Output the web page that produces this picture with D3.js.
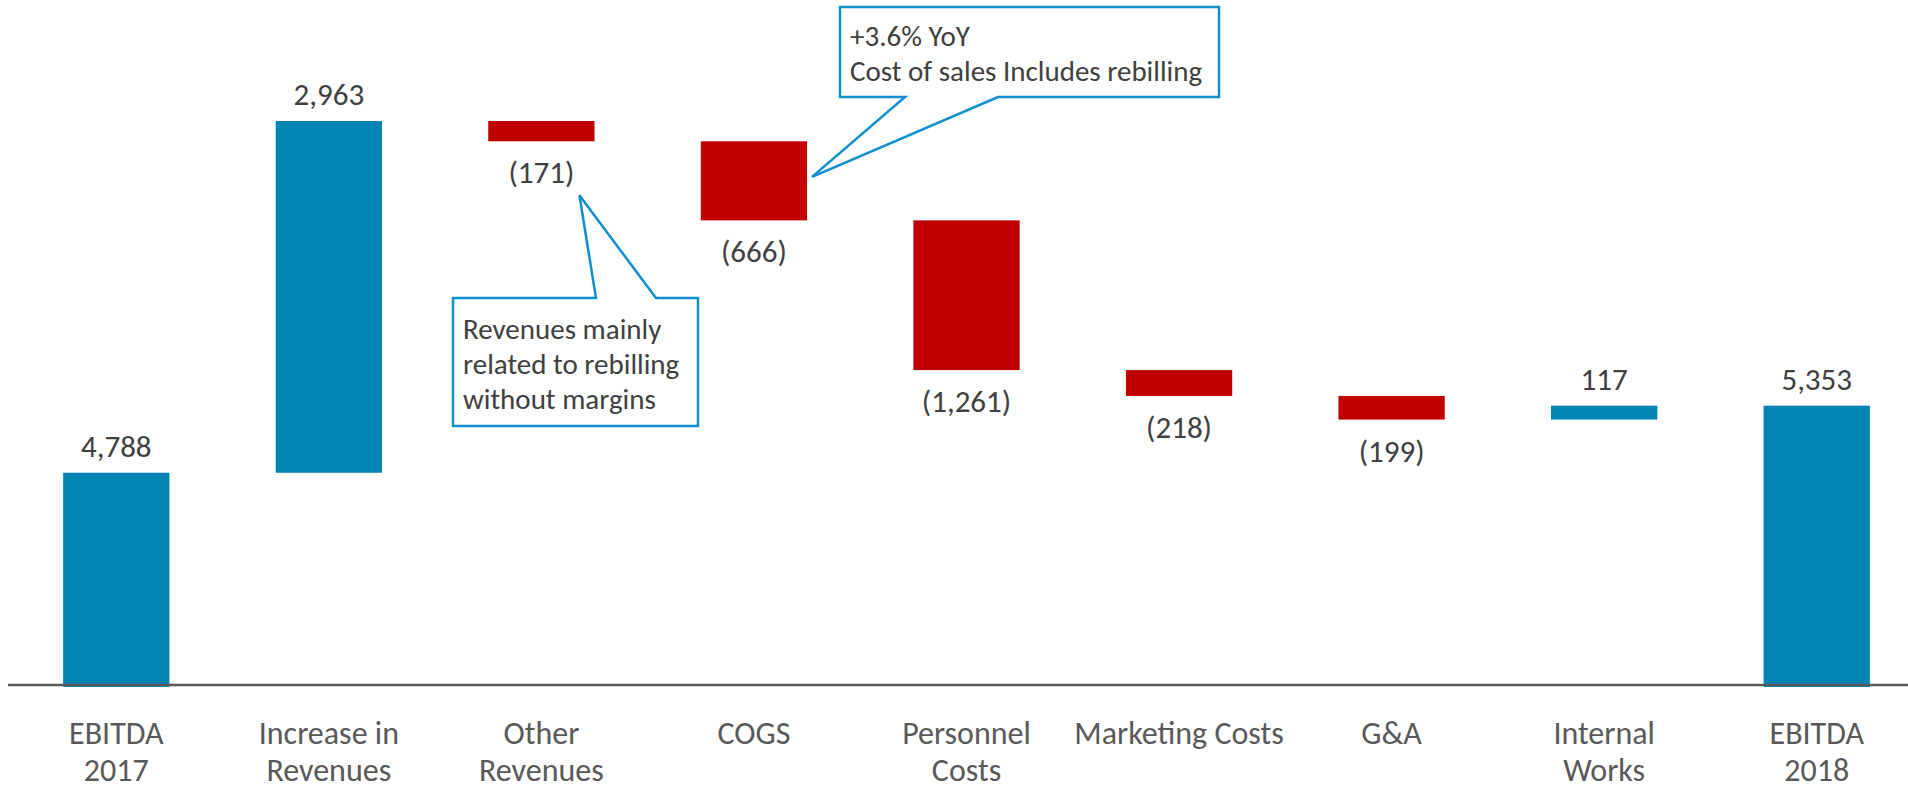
<!DOCTYPE html>
<html>
<head>
<meta charset="utf-8">
<script src="https://cdn.jsdelivr.net/npm/d3@7"></script>
<style>
  html, body { margin: 0; padding: 0; background: #fff; }
  svg { display: block; font-family: Carlito, Lato, "Open Sans", sans-serif; }
  .value-label { fill: #404040; font-size: 31px; }
  .cat-label { fill: #595959; font-size: 32px; }
  .note-text { fill: #404040; font-size: 29px; }
</style>
</head>
<body>
<div id="chart"></div>
<script>
// EBITDA bridge 2017 -> 2018
const categories = [
  "EBITDA\n2017",
  "Increase in\nRevenues",
  "Other\nRevenues",
  "COGS",
  "Personnel\nCosts",
  "Marketing Costs",
  "G&A",
  "Internal\nWorks",
  "EBITDA\n2018",
];
const values = [4788, 2963, -171, -666, -1261, -218, -199, 117, 5353];
const kinds = ["total", "delta", "delta", "delta", "delta", "delta", "delta", "delta", "total"];
const axisBase = 3000; // value axis is cut at 3,000

const noteRevenues = ["Revenues mainly", "related to rebilling", "without margins"];
const noteCogs = ["+3.6% YoY", "Cost of sales Includes rebilling"];

const width = 1908;
const height = 789;
const blue = "#0284b4";
const red = "#c00000";
const calloutBlue = "#0f8fcf";

// running totals for the floating bars
let running = 0;
const bars = values.map((v, i) => {
  let y0, y1;
  if (kinds[i] === "total") {
    y0 = 0;
    y1 = v;
    running = v;
  } else {
    y0 = running;
    y1 = running + v;
    running = y1;
  }
  return { name: categories[i], value: v, kind: kinds[i], lo: Math.min(y0, y1), hi: Math.max(y0, y1) };
});

const x = d3.scaleBand()
  .domain(categories)
  .range([10, 1923])
  .paddingInner(0.5)
  .paddingOuter(0.25);

const y = d3.scaleLinear()
  .domain([axisBase, 7751])
  .range([685, 121]);

const fmt = d3.format(",");
const labelText = (v) => (v < 0 ? `(${fmt(-v)})` : fmt(v));

const svg = d3.select("#chart")
  .append("svg")
  .attr("width", width)
  .attr("height", height)
  .attr("viewBox", [0, 0, width, height]);

svg.append("g")
  .selectAll("rect")
  .data(bars)
  .join("rect")
  .attr("x", (d) => x(d.name))
  .attr("width", x.bandwidth())
  .attr("y", (d) => y(d.hi))
  .attr("height", (d) => Math.max(y(Math.max(d.lo, axisBase)) - y(d.hi), 0) + (d.kind === "total" ? 2 : 0))
  .attr("fill", (d) => (d.value < 0 ? red : blue));

// baseline
svg.append("line")
  .attr("x1", 8)
  .attr("x2", width)
  .attr("y1", y(axisBase))
  .attr("y2", y(axisBase))
  .attr("stroke", "#595959")
  .attr("stroke-width", 2.5);

// value labels: above rising bars, below falling ones
svg.append("g")
  .selectAll("text")
  .data(bars)
  .join("text")
  .attr("class", "value-label")
  .attr("text-anchor", "middle")
  .attr("x", (d) => x(d.name) + x.bandwidth() / 2)
  .attr("y", (d) => (d.value < 0 ? y(d.lo) + 42 : y(d.hi) - 16))
  .text((d) => labelText(d.value));

// category labels, split on line breaks
svg.append("g")
  .selectAll("text")
  .data(categories)
  .join("text")
  .attr("class", "cat-label")
  .attr("text-anchor", "middle")
  .attr("x", (d) => x(d) + x.bandwidth() / 2)
  .attr("y", y(axisBase) + 59)
  .call((t) =>
    t.selectAll("tspan")
      .data((d) => d.split("\n"))
      .join("tspan")
      .attr("x", function () { return this.parentNode.getAttribute("x"); })
      .attr("dy", (d, i) => (i ? 37 : 0))
      .text((d) => d)
  );

// callout: rectangle with a wedge pointing at a spot
function callout({ box, base, tip, lines, textX, firstBaseline, lineGap }) {
  const [bx, by, bw, bh] = box;
  const onTop = tip[1] < by;
  const edgeY = onTop ? by : by + bh;
  let pts;
  if (onTop) {
    pts = [[bx, by], [base[0], by], tip, [base[1], by], [bx + bw, by], [bx + bw, by + bh], [bx, by + bh]];
  } else {
    pts = [[bx, by], [bx + bw, by], [bx + bw, edgeY], [base[1], edgeY], tip, [base[0], edgeY], [bx, edgeY]];
  }
  const g = svg.append("g");
  g.append("path")
    .attr("d", d3.line()(pts) + "Z")
    .attr("fill", "#fff")
    .attr("stroke", calloutBlue)
    .attr("stroke-width", 2.5)
    .attr("stroke-linejoin", "miter");
  g.append("g")
    .selectAll("text")
    .data(lines)
    .join("text")
    .attr("class", "note-text")
    .attr("x", textX)
    .attr("y", (d, i) => firstBaseline + i * lineGap)
    .text((d) => d);
}

const other = bars[2];
const otherCx = x(other.name) + x.bandwidth() / 2;
callout({
  box: [453, 298, 245, 128],
  base: [596, 656],
  tip: [otherCx + 38, y(other.lo) + 54],
  lines: noteRevenues,
  textX: 463,
  firstBaseline: 339,
  lineGap: 35,
});

const cogs = bars[3];
callout({
  box: [840, 7, 379, 90],
  base: [905, 998],
  tip: [x(cogs.name) + x.bandwidth() + 5, y((cogs.lo + cogs.hi) / 2) - 4],
  lines: noteCogs,
  textX: 850,
  firstBaseline: 46,
  lineGap: 35,
});
</script>
</body>
</html>
